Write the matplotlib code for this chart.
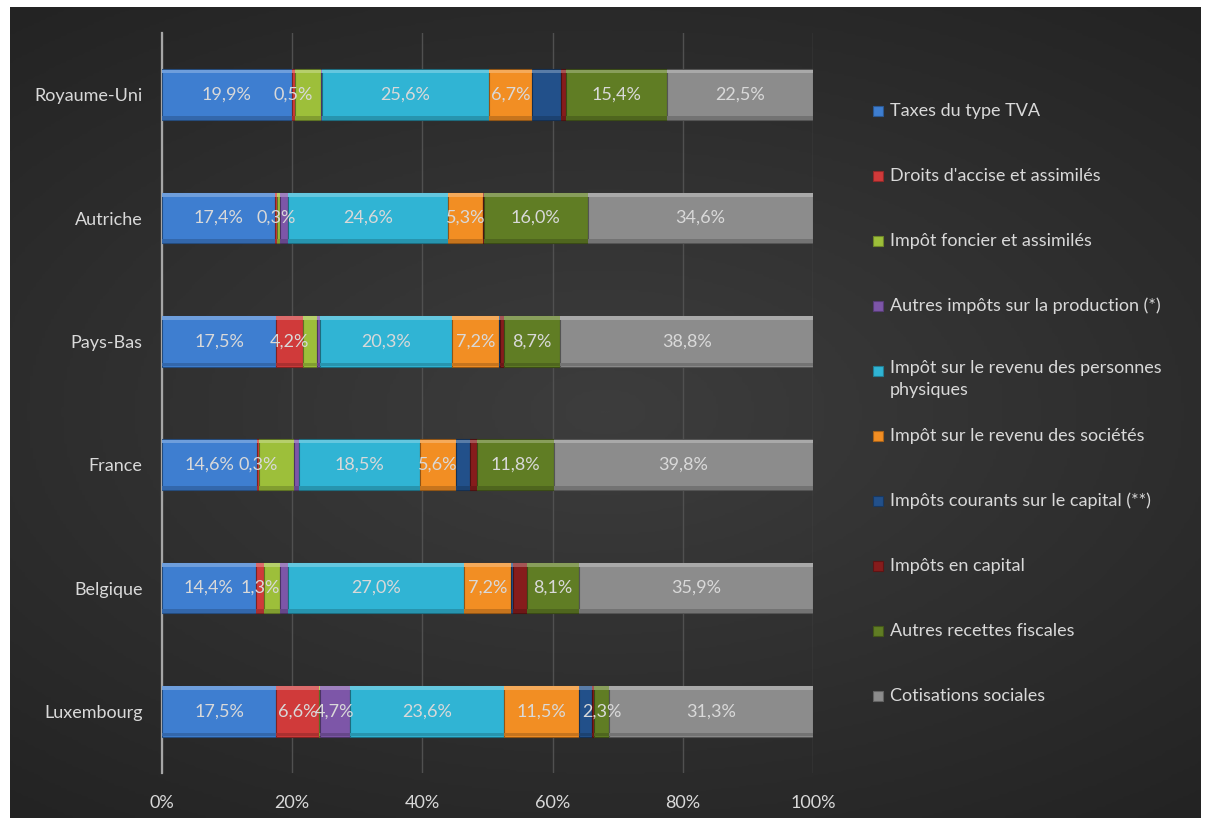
import numpy as np
import matplotlib
matplotlib.use('Agg')
import matplotlib.pyplot as plt
import matplotlib.colors as mcolors
from matplotlib.patches import Rectangle

plt.rcParams['font.family'] = ['Lato', 'DejaVu Sans']

countries = ['Luxembourg', 'Belgique', 'France', 'Pays-Bas', 'Autriche', 'Royaume-Uni']

series_names = [
    'Taxes du type TVA',
    "Droits d'accise et assimilés",
    'Impôt foncier et assimilés',
    'Autres impôts sur la production (*)',
    'Impôt sur le revenu des personnes\nphysiques',
    'Impôt sur le revenu des sociétés',
    'Impôts courants sur le capital (**)',
    'Impôts en capital',
    'Autres recettes fiscales',
    'Cotisations sociales',
]

# % of total, same order as countries
tva = [17.5, 14.4, 14.6, 17.5, 17.4, 19.9]
accise = [6.6, 1.3, 0.3, 4.2, 0.3, 0.5]
foncier = [0.1, 2.5, 5.3, 2.1, 0.4, 4.0]
autres_prod = [4.7, 1.2, 0.9, 0.5, 1.3, 0.2]
irpp = [23.6, 27.0, 18.5, 20.3, 24.6, 25.6]
impot_soc = [11.5, 7.2, 5.6, 7.2, 5.3, 6.7]
courants_cap = [2.1, 0.3, 2.1, 0.1, 0.0, 4.4]
en_capital = [0.3, 2.1, 1.1, 0.6, 0.1, 0.8]
autres_rec = [2.3, 8.1, 11.8, 8.7, 16.0, 15.4]
cotisations = [31.3, 35.9, 39.8, 38.8, 34.6, 22.5]

values = [tva, accise, foncier, autres_prod, irpp, impot_soc,
          courants_cap, en_capital, autres_rec, cotisations]

# which segments carry a data label
all_on = [True] * 6
all_off = [False] * 6
labelled = [all_on, all_on, all_off, [True, False, False, False, False, False],
            all_on, all_on, all_off, all_off, all_on, all_on]

colors = ['#3e7ed0', '#d03a3a', '#9dbf3a', '#7d56a8', '#30b4d4', '#f28e23',
          '#22508a', '#861c1c', '#607d24', '#8c8c8c']

txt = '#d9d9d9'

fig = plt.figure(figsize=(12.06, 8.22), dpi=100, facecolor='white')

# dark gradient panel behind everything
bg = fig.add_axes([10 / 1206, 4 / 822, 1191 / 1206, 811 / 822])
yy, xx = np.mgrid[-1:1:300j, -1:1:400j]
r = np.sqrt((xx * 0.9) ** 2 + (yy * 1.1) ** 2)
bg.imshow(-r, cmap=mcolors.LinearSegmentedColormap.from_list('g', ['#232323', '#3d3d3d']),
          aspect='auto', extent=[0, 1, 0, 1])
bg.set_axis_off()

ax = fig.add_axes([162 / 1206, 49 / 822, 651 / 1206, 740 / 822])
ax.set_facecolor('none')
ypos = np.arange(len(countries))
h = 0.41

left = np.zeros(len(countries))
for vals, col, show in zip(values, colors, labelled):
    vals = np.array(vals)
    c = np.array(mcolors.to_rgb(col))
    light = np.clip(c + (1 - c) * 0.25, 0, 1)
    shade = c * 0.82
    edge = c * 0.6
    ax.barh(ypos, vals, left=left, height=h, color=col, edgecolor=edge, linewidth=0.8, zorder=3)
    # soft bevel: light band on top, darker band at the bottom
    ax.barh(ypos + h / 2 - 0.018, vals, left=left, height=0.03, color=light, linewidth=0, zorder=4)
    ax.barh(ypos - h / 2 + 0.018, vals, left=left, height=0.03, color=shade, linewidth=0, zorder=4)
    for i, v in enumerate(vals):
        if show[i]:
            ax.text(left[i] + v / 2, ypos[i], f'{v:.1f}%'.replace('.', ','),
                    ha='center', va='center', color=txt, fontsize=13, zorder=5)
    left += vals

ax.set_xlim(0, 100)
ax.set_ylim(-0.5, len(countries) - 0.5)
ax.set_xticks(np.arange(0, 101, 20))
ax.set_xticklabels([f'{t}%' for t in range(0, 101, 20)])
ax.set_yticks(ypos)
ax.set_yticklabels(countries)
ax.tick_params(length=0, colors=txt, labelsize=13)
ax.tick_params(axis='x', pad=16)
ax.tick_params(axis='y', pad=14)
ax.grid(axis='x', color='#505050', linewidth=1, zorder=0)
for s in ['top', 'right', 'bottom']:
    ax.spines[s].set_visible(False)
ax.spines['left'].set_color('#a6a6a6')
ax.spines['left'].set_linewidth(1.6)

# legend, Excel style with fixed spacing
leg_y = [111, 176, 241, 306, 371, 436, 501, 566, 631, 696]
for name, col, y in zip(series_names, colors, leg_y):
    fig.patches.append(Rectangle((873 / 1206, (822 - y - 5) / 822), 10 / 1206, 10 / 822,
                                 transform=fig.transFigure, facecolor=col,
                                 edgecolor=np.array(mcolors.to_rgb(col)) * 0.7, linewidth=0.8))
    if '\n' in name:
        fig.text(890 / 1206, (822 - y + 11) / 822, name, color=txt, fontsize=13,
                 va='top', ha='left', linespacing=1.45)
    else:
        fig.text(890 / 1206, (822 - y) / 822, name, color=txt, fontsize=13,
                 va='center', ha='left')

fig.savefig('out.png', dpi=100, facecolor='white')
